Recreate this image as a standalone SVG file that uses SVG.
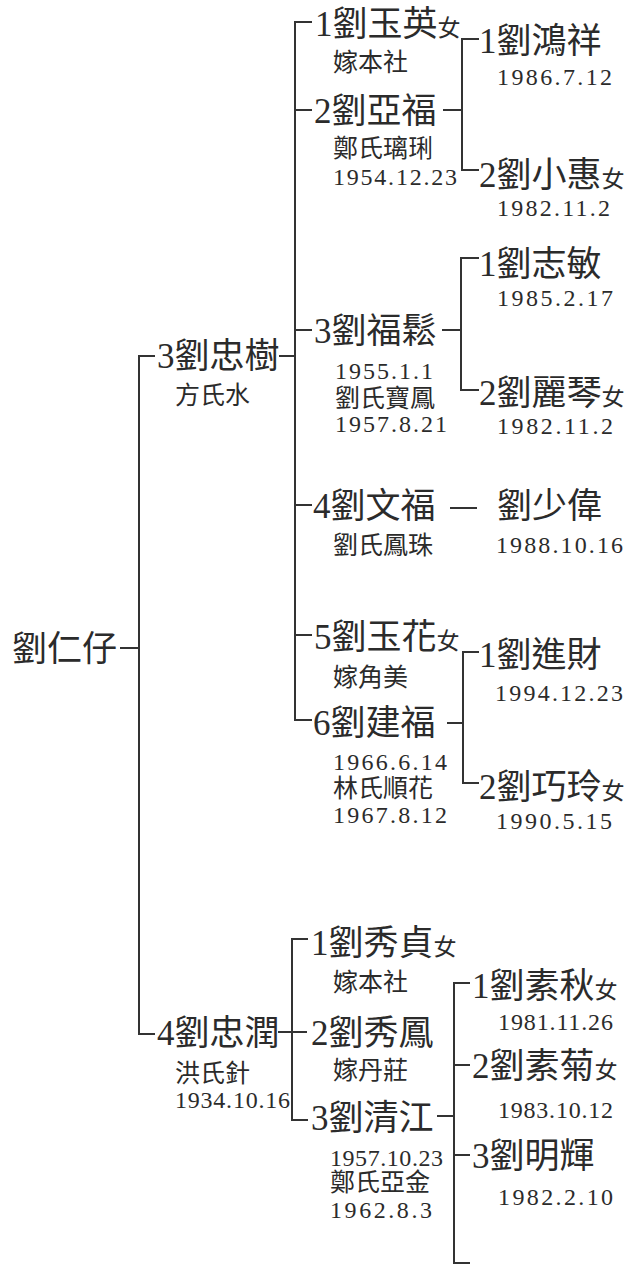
<svg xmlns="http://www.w3.org/2000/svg" width="627" height="1266" viewBox="0 0 627 1266">
<style>
text{fill:#2b2b2b;font-family:"Liberation Serif","Noto Sans CJK TC","Noto Sans CJK JP",serif}
.n{font-size:35px}
.f{font-size:23px}
.s{font-size:25px}
.d{font-size:24px}
.c{fill:none;stroke:#333;stroke-width:2}
</style>
<rect width="627" height="1266" fill="#fff"/>
<g id="connectors" class="c">
<path d="M120 648H139M155 356H139V1034H155"/>
<path d="M279 356H295M312 22H295V720H312M295 110H312M295 330H312M295 505H312M295 635H312"/>
<path d="M443 110H462M479 39H462V170H479"/>
<path d="M442 330H461M479 258H461V390H479"/>
<path d="M450 508H477"/>
<path d="M447 723H463M479 652H463V783H479"/>
<path d="M278 1032H307M308 939H292V1120H308"/>
<path d="M437 1116H454M470 983H454V1263H470M454 1065H470M454 1155H470"/>
</g>
<g id="n-renzai"><text class="n" x="12" y="661">劉仁仔</text></g>
<g id="n-zhongshu"><text class="n" x="157" y="368">3劉忠樹</text><text class="s" x="175" y="404">方氏水</text></g>
<g id="n-zhongrun"><text class="n" x="157" y="1045">4劉忠潤</text><text class="s" x="175" y="1082">洪氏針</text><text class="d" x="175" y="1108" textLength="115">1934.10.16</text></g>
<g id="n-yuying"><text class="n" x="315" y="36">1劉玉英<tspan class="f">女</tspan></text><text class="s" x="333" y="71">嫁本社</text></g>
<g id="n-yafu"><text class="n" x="314" y="123">2劉亞福</text><text class="s" x="333" y="157">鄭氏璃琍</text><text class="d" x="333" y="185" textLength="124">1954.12.23</text></g>
<g id="n-fusong"><text class="n" x="314" y="343">3劉福鬆</text><text class="d" x="335" y="379" textLength="98">1955.1.1</text><text class="s" x="335" y="407">劉氏寶鳳</text><text class="d" x="335" y="432" textLength="112">1957.8.21</text></g>
<g id="n-wenfu"><text class="n" x="313" y="518">4劉文福</text><text class="s" x="333" y="554">劉氏鳳珠</text></g>
<g id="n-yuhua"><text class="n" x="314" y="649">5劉玉花<tspan class="f">女</tspan></text><text class="s" x="333" y="686">嫁角美</text></g>
<g id="n-jianfu"><text class="n" x="313" y="735">6劉建福</text><text class="d" x="333" y="770" textLength="114">1966.6.14</text><text class="s" x="333" y="797">林氏順花</text><text class="d" x="333" y="823" textLength="114">1967.8.12</text></g>
<g id="n-hongxiang"><text class="n" x="479" y="53">1劉鴻祥</text><text class="d" x="497" y="85" textLength="115">1986.7.12</text></g>
<g id="n-xiaohui"><text class="n" x="479" y="187">2劉小惠<tspan class="f">女</tspan></text><text class="d" x="497" y="216" textLength="113">1982.11.2</text></g>
<g id="n-zhimin"><text class="n" x="479" y="276">1劉志敏</text><text class="d" x="497" y="306" textLength="116">1985.2.17</text></g>
<g id="n-liqin"><text class="n" x="479" y="405">2劉麗琴<tspan class="f">女</tspan></text><text class="d" x="497" y="434" textLength="116">1982.11.2</text></g>
<g id="n-shaowei"><text class="n" x="497" y="518">劉少偉</text><text class="d" x="496" y="553" textLength="127">1988.10.16</text></g>
<g id="n-jincai"><text class="n" x="479" y="667">1劉進財</text><text class="d" x="495" y="701" textLength="128">1994.12.23</text></g>
<g id="n-qiaoling"><text class="n" x="479" y="799">2劉巧玲<tspan class="f">女</tspan></text><text class="d" x="496" y="829" textLength="116">1990.5.15</text></g>
<g id="n-xiuzhen"><text class="n" x="311" y="955">1劉秀貞<tspan class="f">女</tspan></text><text class="s" x="333" y="991">嫁本社</text></g>
<g id="n-xiufeng"><text class="n" x="311" y="1045">2劉秀鳳</text><text class="s" x="333" y="1079">嫁丹莊</text></g>
<g id="n-qingjiang"><text class="n" x="311" y="1130">3劉清江</text><text class="d" x="330" y="1166" textLength="113">1957.10.23</text><text class="s" x="330" y="1191">鄭氏亞金</text><text class="d" x="330" y="1218" textLength="102">1962.8.3</text></g>
<g id="n-suqiu"><text class="n" x="472" y="998">1劉素秋<tspan class="f">女</tspan></text><text class="d" x="498" y="1030" textLength="115">1981.11.26</text></g>
<g id="n-suju"><text class="n" x="472" y="1078">2劉素菊<tspan class="f">女</tspan></text><text class="d" x="498" y="1118" textLength="115">1983.10.12</text></g>
<g id="n-minghui"><text class="n" x="472" y="1168">3劉明輝</text><text class="d" x="498" y="1205" textLength="115">1982.2.10</text></g>
</svg>
